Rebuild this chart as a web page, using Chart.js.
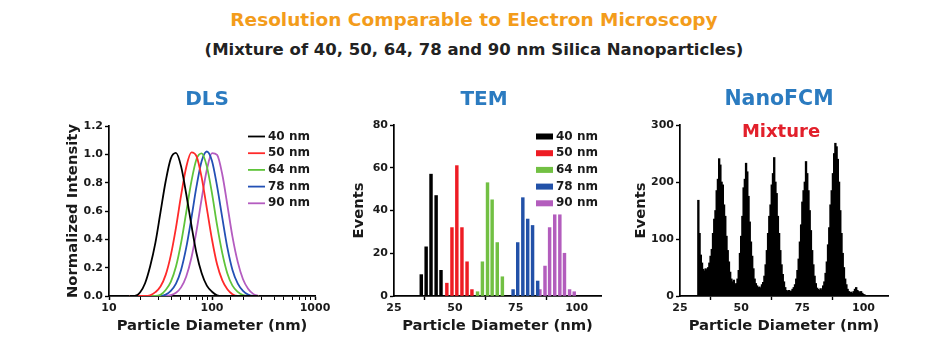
<!DOCTYPE html>
<html><head><meta charset="utf-8">
<script src="https://cdn.jsdelivr.net/npm/chart.js@4.4.1/dist/chart.umd.min.js"></script>
<style>
html,body{margin:0;padding:0;background:#fff;}
body{width:948px;height:356px;position:relative;overflow:hidden;font-family:"DejaVu Sans",sans-serif;font-weight:bold;}
.t{position:absolute;white-space:nowrap;transform:translate(-50%,-50%);line-height:1;}
.box{position:absolute;}
canvas{display:block;}
</style></head><body>

<div class="box" id="b1"><canvas id="c1"></canvas></div>
<div class="box" id="b2"><canvas id="c2"></canvas></div>
<div class="box" id="b3"><canvas id="c3"></canvas></div>

<div class="t" style="left:474px;top:20px;font-size:18.5px;color:#f39c1b">Resolution Comparable to Electron Microscopy</div>
<div class="t" style="left:474px;top:50px;font-size:16.5px;color:#222">(Mixture of 40, 50, 64, 78 and 90 nm Silica Nanoparticles)</div>
<div class="t" style="left:207px;top:98px;font-size:20px;color:#2b7bc0">DLS</div>
<div class="t" style="left:484px;top:98px;font-size:20px;color:#2b7bc0">TEM</div>
<div class="t" style="left:779px;top:98px;font-size:20.5px;color:#2b7bc0">NanoFCM</div>
<div class="t" style="left:781px;top:131px;font-size:18px;color:#e2202b">Mixture</div>

<script>
// ---------------- DATA ----------------
const seriesLabels = ["40 nm", "50 nm", "64 nm", "78 nm", "90 nm"];

// DLS: diameter (nm, log axis) and normalized intensity per sample
const dlsDiameter = [15.8,17.8,20,22.4,25.1,28.2,31.6,35.5,39.8,44.7,50.1,56.2,63.1,70.8,79.4,89.1,100,112,126,141,158,178,200,224,251,282];
const dls40 = [0,0,0.025,0.09,0.21,0.375,0.59,0.81,0.97,1.01,0.915,0.72,0.50,0.30,0.16,0.073,0.03,0.005,0,0,0,0,0,0,0,0];
const dls50 = [0,0,0,0,0.005,0.027,0.067,0.149,0.287,0.483,0.71,0.909,1.014,0.986,0.836,0.619,0.399,0.224,0.11,0.047,0.012,0,0,0,0,0];
const dls64 = [0,0,0,0,0,0,0.008,0.042,0.10,0.208,0.375,0.59,0.809,0.967,1.007,0.915,0.724,0.50,0.301,0.159,0.073,0.029,0.006,0,0,0];
const dls78 = [0,0,0,0,0,0,0,0.01,0.036,0.087,0.184,0.341,0.55,0.775,0.953,1.02,0.953,0.775,0.55,0.341,0.184,0.087,0.036,0.01,0,0];
const dls90 = [0,0,0,0,0,0,0,0,0.006,0.023,0.061,0.138,0.27,0.462,0.687,0.891,1.009,0.996,0.856,0.642,0.419,0.239,0.118,0.051,0.015,0];
const dlsXTickLabels = [10, 100, 1000];
const dlsYTicks = [0, 0.2, 0.4, 0.6, 0.8, 1.0, 1.2];

// TEM histogram: bin centre (nm) and events
const tem40x = [36.2,38.2,40.2,42.3,44.3];            const tem40y = [10,23,57,47,12];
const tem50x = [46.7,48.8,50.8,52.9,55.0,57.0];       const tem50y = [6,32,61,32,16,3];
const tem64x = [59.3,61.3,63.4,65.3,67.4,69.5];       const tem64y = [2,16,53,45,25,9];
const tem78x = [73.9,75.8,77.9,79.9,81.9,84.0];       const tem78y = [3,25,46,36,33,7];
const tem90x = [84.9,87.0,88.9,91.0,93.1,95.0,97.1,99.0]; const tem90y = [3,14,32,38,38,20,3,2];
const temXTicks = [25, 50, 75, 100];
const temYTicks = [0, 20, 40, 60, 80];

// NanoFCM histogram: first bin centre 32.5 nm, bin width 0.5 nm
const fcmStart = 32.5, fcmStep = 0.5;
const fcmCounts = [
 168,110,72,58,47,44,48,46,50,58,
 70,82,110,135,150,185,205,241,230,200,
 195,160,140,105,80,60,42,30,25,28,
 20,22,30,45,75,105,140,190,205,233,
 218,175,130,95,70,48,30,22,18,15,
 16,14,20,24,35,55,80,110,140,160,
 195,215,243,200,180,140,110,80,55,38,
 25,15,10,8,10,8,9,12,15,20,
 30,45,65,95,125,165,185,200,236,215,
 185,150,115,80,55,35,22,14,12,10,
 13,10,18,25,40,60,90,120,160,185,
 215,250,268,262,240,200,150,110,75,50,
 30,20,12,8,6,7,5,8,12,15,
 10,8,6,8,5,3,2,1];
const fcmXTicks = [25, 50, 75, 100];
const fcmYTicks = [0, 100, 200, 300];

const colorsLine = ["#000000", "#ff2a2a", "#5fc43a", "#2350b5", "#b45cc0"];
const colorsBar  = ["#000000", "#ee1c24", "#72c043", "#2251a8", "#b35dbd"];

// ---------------- LAYOUT ----------------
const FONT = '"DejaVu Sans", sans-serif';
const TITLE_SIZE = 14.8, TITLE_LH = 1.2;
const titleOff = TITLE_SIZE * TITLE_LH / 2;

function geom(id, canvas, area, yTitleX, xTitleY) {
  const box = document.getElementById(id);
  box.style.left = canvas.left + 'px'; box.style.top = canvas.top + 'px';
  box.style.width = canvas.w + 'px'; box.style.height = canvas.h + 'px';
  const yScaleLeft = yTitleX - titleOff;
  const xScaleBottom = xTitleY + titleOff;
  return {
    padding: {
      left: yScaleLeft - canvas.left,
      right: canvas.left + canvas.w - area.R,
      top: area.T - canvas.top,
      bottom: canvas.top + canvas.h - xScaleBottom
    },
    yw: area.L - yScaleLeft,
    xh: xScaleBottom - area.B
  };
}

const g1 = geom('b1', {left:40, top:108, w:300, h:248}, {L:109, R:315, T:126, B:296}, 73, 326);
const g2 = geom('b2', {left:335, top:108, w:282, h:248}, {L:394, R:601, T:125, B:296}, 359, 326);
const g3 = geom('b3', {left:620, top:108, w:290, h:248}, {L:680, R:888, T:125, B:296}, 641, 326);

Chart.defaults.font.family = FONT;
Chart.defaults.font.weight = 'bold';
Chart.defaults.color = '#222';

const inlineLegend = {
  id: 'inlineLegend',
  afterDraw(chart, args, opts) {
    if (!opts || !opts.display) return;
    const ctx = chart.ctx, a = chart.chartArea;
    ctx.save();
    ctx.font = 'bold ' + opts.size + 'px ' + FONT;
    ctx.textBaseline = 'middle';
    ctx.textAlign = 'left';
    chart.data.datasets.forEach((ds, i) => {
      const y = a.top + opts.y + i * opts.gap;
      const x = a.left + opts.x;
      if (opts.kind === 'line') {
        ctx.strokeStyle = ds.borderColor; ctx.lineWidth = 1.8;
        ctx.beginPath(); ctx.moveTo(x, y); ctx.lineTo(x + opts.w, y); ctx.stroke();
      } else {
        ctx.fillStyle = ds.backgroundColor;
        ctx.fillRect(x, y - opts.h / 2, opts.w, opts.h);
      }
      ctx.fillStyle = '#1a1a1a';
      ctx.fillText(ds.label, x + opts.w + opts.pad, y);
    });
    ctx.restore();
  }
};

function axis(extra, tickVals, titleText, isX, g, labelFn) {
  return Object.assign({
    title: {display: true, text: titleText, color: '#1a1a1a', padding: 0,
            font: {size: TITLE_SIZE, weight: 'bold', lineHeight: TITLE_LH}},
    grid: {display: true, drawOnChartArea: false, drawTicks: true, tickLength: 4,
           tickColor: '#000', tickWidth: 1.4},
    border: {display: true, color: '#000', width: 1.7},
    ticks: {font: {size: 11, weight: 'bold'}, color: '#1a1a1a', padding: 2,
            autoSkip: false, maxRotation: 0, minRotation: 0,
            callback: labelFn || (v => String(v))},
    afterBuildTicks: tickVals ? (s => { s.ticks = tickVals.map(v => ({value: v})); }) : undefined,
    afterFit: s => { if (isX) s.height = g.xh; else s.width = g.yw; }
  }, extra);
}

// ---------------- DLS ----------------
const dlsSeries = [dls40, dls50, dls64, dls78, dls90];
new Chart(document.getElementById('c1'), {
  type: 'line',
  data: {
    datasets: dlsSeries.map((s, i) => ({
      label: seriesLabels[i],
      data: dlsDiameter.map((d, k) => ({x: d, y: s[k]})),
      borderColor: colorsLine[i], backgroundColor: colorsLine[i],
      borderWidth: 1.8, pointRadius: 0, fill: false,
      cubicInterpolationMode: 'monotone'
    }))
  },
  options: {
    responsive: true, maintainAspectRatio: false, animation: false,
    devicePixelRatio: 1,
    layout: {padding: g1.padding},
    plugins: {legend: {display: false}, tooltip: {enabled: false},
      inlineLegend: {display: true, kind: 'line', x: 139, y: 10.5, gap: 16.7, w: 17, h: 2, pad: 3, size: 12}},
    scales: {
      x: axis({type: 'logarithmic', min: 10, max: 1000,
               grid: {display: true, drawOnChartArea: false, drawTicks: true, tickLength: 4, tickColor: '#000',
                      tickWidth: c => (c.tick && dlsXTickLabels.includes(c.tick.value)) ? 1.5 : 1}},
              null, 'Particle Diameter (nm)', true, g1,
              v => dlsXTickLabels.includes(v) ? String(v) : ''),
      y: axis({type: 'linear', min: 0, max: 1.2}, dlsYTicks, 'Normalized Intensity', false, g1,
              v => v.toFixed(1))
    }
  },
  plugins: [inlineLegend]
});

// ---------------- TEM ----------------
const temX = [tem40x, tem50x, tem64x, tem78x, tem90x];
const temY = [tem40y, tem50y, tem64y, tem78y, tem90y];
new Chart(document.getElementById('c2'), {
  type: 'bar',
  data: {
    datasets: temX.map((xs, i) => ({
      label: seriesLabels[i],
      data: xs.map((x, k) => ({x: x, y: temY[i][k]})),
      backgroundColor: colorsBar[i], borderWidth: 0,
      barThickness: 2.8, grouped: false
    }))
  },
  options: {
    responsive: true, maintainAspectRatio: false, animation: false,
    devicePixelRatio: 1,
    layout: {padding: g2.padding},
    plugins: {legend: {display: false}, tooltip: {enabled: false},
      inlineLegend: {display: true, kind: 'box', x: 142, y: 11.5, gap: 16.7, w: 17, h: 6, pad: 3, size: 12}},
    scales: {
      x: axis({type: 'linear', min: 25, max: 110, offset: false}, temXTicks, 'Particle Diameter (nm)', true, g2),
      y: axis({type: 'linear', min: 0, max: 80}, temYTicks, 'Events', false, g2)
    }
  },
  plugins: [inlineLegend]
});

// ---------------- NanoFCM ----------------
new Chart(document.getElementById('c3'), {
  type: 'bar',
  data: {
    datasets: [{
      label: 'Mixture',
      data: fcmCounts.map((c, k) => ({x: fcmStart + k * fcmStep, y: c})),
      backgroundColor: '#000', borderWidth: 0, barThickness: 1.7
    }]
  },
  options: {
    responsive: true, maintainAspectRatio: false, animation: false,
    devicePixelRatio: 1,
    layout: {padding: g3.padding},
    plugins: {legend: {display: false}, tooltip: {enabled: false}},
    scales: {
      x: axis({type: 'linear', min: 25, max: 110, offset: false}, fcmXTicks, 'Particle Diameter (nm)', true, g3),
      y: axis({type: 'linear', min: 0, max: 300}, fcmYTicks, 'Events', false, g3)
    }
  }
});
</script>
</body></html>
